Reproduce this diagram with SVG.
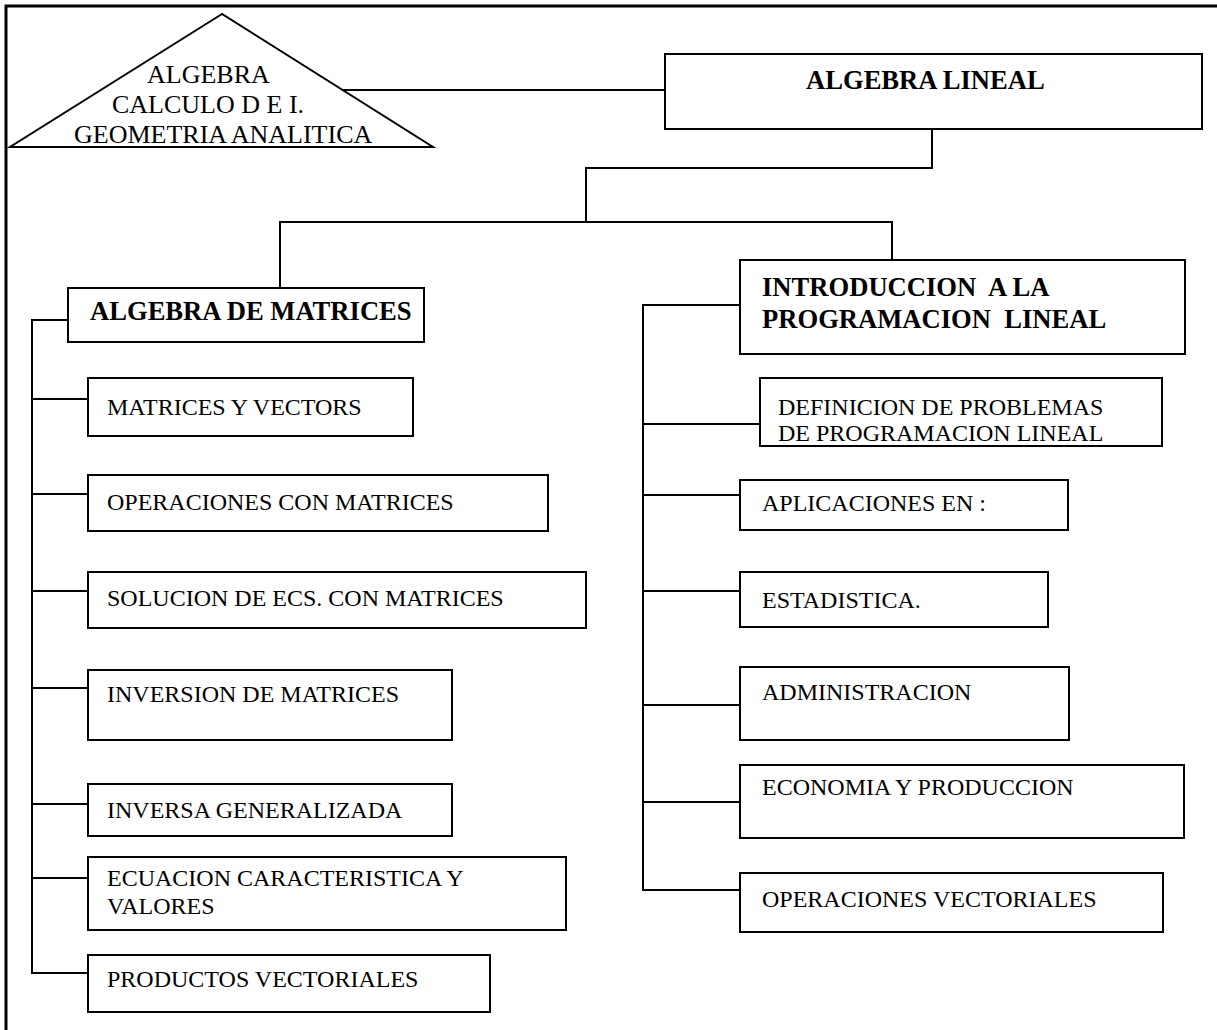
<svg xmlns="http://www.w3.org/2000/svg" width="1217" height="1030" viewBox="0 0 1217 1030">
<style>
.frame{fill:none;stroke:#000;stroke-width:3}
.box{fill:#fff;stroke:#000;stroke-width:2}
.con{fill:none;stroke:#000;stroke-width:2}
.t{font-family:"Liberation Serif","Times New Roman",serif;font-size:24px;fill:#000;white-space:pre}
.b{font-family:"Liberation Serif","Times New Roman",serif;font-size:26.6px;font-weight:bold;fill:#000;white-space:pre}
.tri{font-family:"Liberation Serif","Times New Roman",serif;font-size:26px;fill:#000}
</style>
<rect width="1217" height="1030" fill="#fff"/>
<path class="frame" d="M6,1030 V6 H1217"/>
<g id="connectors">
<path class="con" d="M336,90 H665"/>
<path class="con" d="M932,129 V168 H586 V222"/>
<path class="con" d="M280,288 V222 H892 V260"/>
<path class="con" d="M68,320 H32 V973 H88"/>
<path class="con" d="M32,399 H88 M32,494 H88 M32,591 H88 M32,688 H88 M32,804 H88 M32,878 H88"/>
<path class="con" d="M740,305 H643 V890 H740"/>
<path class="con" d="M643,424 H760 M643,495 H740 M643,591 H740 M643,705 H740 M643,802 H740"/>
</g>
<g id="prereq">
<polygon class="box" points="222,14 10,147 433,147"/>
<text class="tri" x="147" y="83">ALGEBRA</text>
<text class="tri" x="112" y="113">CALCULO D E I.</text>
<text class="tri" x="74" y="143">GEOMETRIA ANALITICA</text>
</g>
<g id="algebra-lineal">
<rect class="box" x="665" y="54" width="537" height="75"/>
<text class="b" x="806" y="89">ALGEBRA LINEAL</text>
</g>
<g id="algebra-matrices">
<rect class="box" x="68" y="288" width="356" height="54"/>
<text class="b" x="90" y="320">ALGEBRA DE MATRICES</text>
</g>
<g id="matrices-vectors">
<rect class="box" x="88" y="378" width="325" height="58"/>
<text class="t" x="107" y="415">MATRICES Y VECTORS</text>
</g>
<g id="operaciones-matrices">
<rect class="box" x="88" y="475" width="460" height="56"/>
<text class="t" x="107" y="510">OPERACIONES CON MATRICES</text>
</g>
<g id="solucion">
<rect class="box" x="88" y="572" width="498" height="56"/>
<text class="t" x="107" y="606">SOLUCION DE ECS. CON MATRICES</text>
</g>
<g id="inversion">
<rect class="box" x="88" y="670" width="364" height="70"/>
<text class="t" x="107" y="702">INVERSION DE MATRICES</text>
</g>
<g id="inversa">
<rect class="box" x="88" y="784" width="364" height="52"/>
<text class="t" x="107" y="818">INVERSA GENERALIZADA</text>
</g>
<g id="ecuacion">
<rect class="box" x="88" y="857" width="478" height="73"/>
<text class="t" x="107" y="886">ECUACION CARACTERISTICA Y</text>
<text class="t" x="107" y="914">VALORES</text>
</g>
<g id="productos">
<rect class="box" x="88" y="955" width="402" height="57"/>
<text class="t" x="107" y="987">PRODUCTOS VECTORIALES</text>
</g>
<g id="introduccion">
<rect class="box" x="740" y="260" width="445" height="94"/>
<text class="b" x="762" y="296">INTRODUCCION  A LA</text>
<text class="b" x="762" y="328">PROGRAMACION  LINEAL</text>
</g>
<g id="definicion">
<rect class="box" x="760" y="378" width="402" height="68"/>
<text class="t" x="778" y="415">DEFINICION DE PROBLEMAS</text>
<text class="t" x="778" y="441">DE PROGRAMACION LINEAL</text>
</g>
<g id="aplicaciones">
<rect class="box" x="740" y="480" width="328" height="50"/>
<text class="t" x="762" y="511">APLICACIONES EN :</text>
</g>
<g id="estadistica">
<rect class="box" x="740" y="572" width="308" height="55"/>
<text class="t" x="762" y="608">ESTADISTICA.</text>
</g>
<g id="administracion">
<rect class="box" x="740" y="667" width="329" height="73"/>
<text class="t" x="762" y="700">ADMINISTRACION</text>
</g>
<g id="economia">
<rect class="box" x="740" y="765" width="444" height="73"/>
<text class="t" x="762" y="795">ECONOMIA Y PRODUCCION</text>
</g>
<g id="operaciones-vectoriales">
<rect class="box" x="740" y="873" width="423" height="59"/>
<text class="t" x="762" y="907">OPERACIONES VECTORIALES</text>
</g>
</svg>
